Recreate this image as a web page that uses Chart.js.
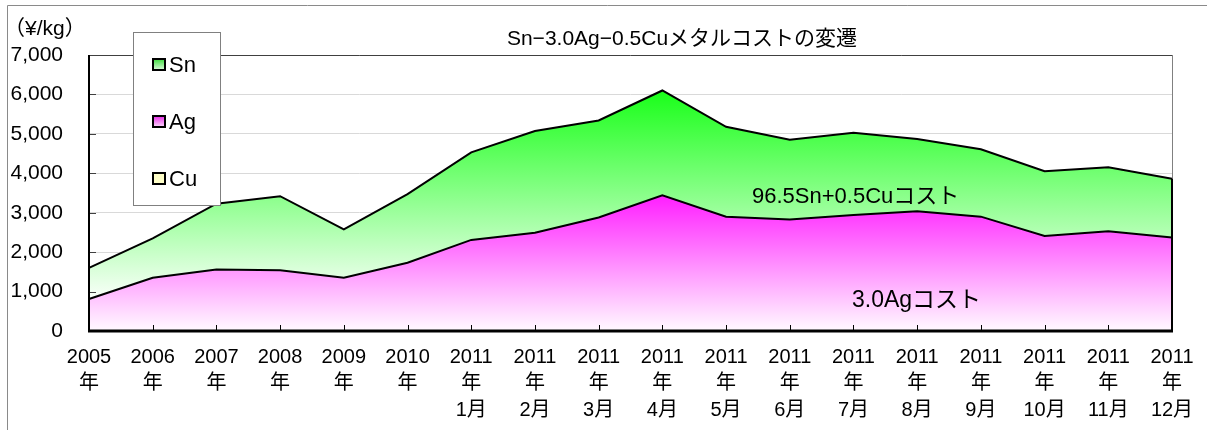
<!DOCTYPE html>
<html><head><meta charset="utf-8">
<script src="https://cdn.jsdelivr.net/npm/chart.js@4/dist/chart.umd.min.js"></script>
<style>html,body{margin:0;padding:0;background:#fff;}canvas{display:block;}</style>
</head><body>
<canvas id="c" width="1207" height="430"></canvas>
<script>
// ---- data ----
const yearLabels  = ['2005','2006','2007','2008','2009','2010','2011','2011','2011','2011','2011','2011','2011','2011','2011','2011','2011','2011'];
const monthLabels = ['','','','','','','1月','2月','3月','4月','5月','6月','7月','8月','9月','10月','11月','12月'];
const agCost      = [810, 1350, 1560, 1540, 1350, 1730, 2310, 2490, 2880, 3440, 2900, 2830, 2940, 3040, 2900, 2410, 2530, 2370];
const snCuCost    = [790, 1000, 1670, 1880, 1230, 1740, 2220, 2580, 2460, 2660, 2280, 2020, 2090, 1830, 1710, 1640, 1620, 1490];
const yTicks      = [0, 1000, 2000, 3000, 4000, 5000, 6000, 7000];
const legendNames = ['Sn', 'Ag', 'Cu'];
const titleText   = 'Sn\u22123.0Ag\u22120.5Cuメタルコストの変遷';
const unitText    = '（¥/kg）';
const snLabel     = '96.5Sn+0.5Cuコスト';
const agLabel     = '3.0Agコスト';

const labels = yearLabels.map((y, i) => monthLabels[i] ? [y, '年', monthLabels[i]] : [y, '年']);
const FONT = '"Liberation Sans", "Noto Sans CJK JP", Arial, sans-serif';

function snGrad(c) {
  const ch = c.chart, a = ch.chartArea;
  if (!a) return 'rgba(0,255,0,0.5)';
  const ys = ch.scales.y;
  const tops = agCost.map((v, i) => v + snCuCost[i]);
  const g = ch.ctx.createLinearGradient(0, ys.getPixelForValue(Math.max(...tops)), 0, ys.getPixelForValue(Math.min(...agCost)));
  g.addColorStop(0, 'rgb(25,255,25)');
  g.addColorStop(1, 'rgb(250,255,250)');
  return g;
}
function agGrad(c) {
  const ch = c.chart, a = ch.chartArea;
  if (!a) return 'rgba(255,0,255,0.5)';
  const ys = ch.scales.y;
  const g = ch.ctx.createLinearGradient(0, ys.getPixelForValue(Math.max(...agCost)), 0, ys.getPixelForValue(0));
  g.addColorStop(0, 'rgb(255,30,255)');
  g.addColorStop(1, 'rgb(255,250,255)');
  return g;
}

const decor = {
  id: 'decor',
  afterDraw(chart) {
    const ctx = chart.ctx, a = chart.chartArea, xs = chart.scales.x, ys = chart.scales.y;
    ctx.save();
    // outer frame
    ctx.strokeStyle = '#8a8a8a'; ctx.lineWidth = 1;
    ctx.beginPath(); ctx.moveTo(7.5, 430); ctx.lineTo(7.5, 5.5); ctx.lineTo(1207, 5.5); ctx.stroke();
    // plot frame top & right
    ctx.strokeStyle = '#404040';
    ctx.beginPath(); ctx.moveTo(a.left, a.top + 0.5); ctx.lineTo(a.right, a.top + 0.5); ctx.stroke();
    ctx.strokeStyle = '#808080';
    ctx.beginPath(); ctx.moveTo(a.right + 0.5, a.top); ctx.lineTo(a.right + 0.5, a.bottom); ctx.stroke();
    // right vertical edge of the areas
    const last = agCost.length - 1;
    ctx.strokeStyle = '#000'; ctx.lineWidth = 2;
    ctx.beginPath();
    ctx.moveTo(xs.getPixelForValue(last), ys.getPixelForValue(agCost[last] + snCuCost[last]));
    ctx.lineTo(xs.getPixelForValue(last), a.bottom); ctx.stroke();
    // y inward ticks
    ctx.strokeStyle = '#404040'; ctx.lineWidth = 1;
    yTicks.forEach(v => { const p = Math.round(ys.getPixelForValue(v)) + 0.5; ctx.beginPath(); ctx.moveTo(a.left, p); ctx.lineTo(a.left + 7, p); ctx.stroke(); });
    // x inward ticks
    ctx.strokeStyle = '#000';
    labels.forEach((l, i) => { const p = Math.round(xs.getPixelForValue(i)) + 0.5; ctx.beginPath(); ctx.moveTo(p, a.bottom); ctx.lineTo(p, a.bottom - 6); ctx.stroke(); });
    // left axis
    ctx.lineWidth = 2; ctx.strokeStyle = '#000';
    ctx.beginPath(); ctx.moveTo(a.left, a.top); ctx.lineTo(a.left, a.bottom); ctx.stroke();
    // bottom axis
    ctx.lineWidth = 3;
    ctx.beginPath(); ctx.moveTo(a.left - 1, a.bottom); ctx.lineTo(a.right + 1, a.bottom); ctx.stroke();

    // texts
    ctx.fillStyle = '#000'; ctx.textBaseline = 'middle';
    ctx.font = '21px ' + FONT; ctx.textAlign = 'center';
    ctx.fillText(titleText, 682, 39);
    ctx.font = '21px ' + FONT; ctx.textAlign = 'left';
    ctx.fillText(unitText, 4, 29);
    ctx.font = '22px ' + FONT;
    ctx.fillText(snLabel, 752, 197);
    ctx.font = '23px ' + FONT;
    ctx.fillText(agLabel, 852, 301);

    // legend box
    ctx.fillStyle = '#fff'; ctx.fillRect(133, 32, 87, 173);
    ctx.strokeStyle = '#808080'; ctx.lineWidth = 1; ctx.strokeRect(133.5, 32.5, 87, 173);
    const rows = [65, 122, 179];
    const fills = [['rgb(60,220,60)', 'rgb(235,255,235)'], ['rgb(230,40,230)', 'rgb(255,235,255)'], ['rgb(255,255,200)', 'rgb(255,255,200)']];
    legendNames.forEach((n, i) => {
      const y = rows[i];
      const g = ctx.createLinearGradient(0, y - 6, 0, y + 6);
      g.addColorStop(0, fills[i][0]); g.addColorStop(1, fills[i][1]);
      ctx.fillStyle = g; ctx.fillRect(153, y - 6, 12, 11);
      ctx.strokeStyle = '#000'; ctx.lineWidth = 2; ctx.strokeRect(153, y - 6, 12, 11);
      ctx.fillStyle = '#000'; ctx.font = '22px ' + FONT; ctx.textAlign = 'left';
      ctx.fillText(n, 169, y + 1);
    });
    ctx.restore();
  }
};

new Chart(document.getElementById('c'), {
  type: 'line',
  data: {
    labels: labels,
    datasets: [
      { label: 'Ag', data: agCost, fill: 'origin', backgroundColor: agGrad, borderColor: '#000', borderWidth: 2, pointRadius: 0, tension: 0 },
      { label: 'Sn+Cu', data: snCuCost, fill: '-1', backgroundColor: snGrad, borderColor: '#000', borderWidth: 2, pointRadius: 0, tension: 0 }
    ]
  },
  options: {
    responsive: false, animation: false,
    layout: { padding: { left: 0, right: 35, top: 55, bottom: 0 } },
    plugins: { legend: { display: false }, tooltip: { enabled: false }, title: { display: false } },
    scales: {
      x: {
        offset: false,
        grid: { display: false, drawTicks: false },
        border: { display: false },
        ticks: { color: '#000', font: { size: 20, family: FONT, lineHeight: 1.33 }, padding: 13, maxRotation: 0, autoSkip: false },
        afterFit(s) { s.height = 99; }
      },
      y: {
        stacked: true, min: 0, max: 7000,
        afterBuildTicks(s) { s.ticks = yTicks.map(v => ({ value: v })); },
        ticks: { color: '#000', font: { size: 21, family: FONT }, padding: 26, callback: v => v.toLocaleString('en-US') },
        grid: { color: '#d9d9d9', drawTicks: false },
        border: { display: false },
        afterFit(s) { s.width = 89; }
      }
    }
  },
  plugins: [decor]
});
</script>
</body></html>
